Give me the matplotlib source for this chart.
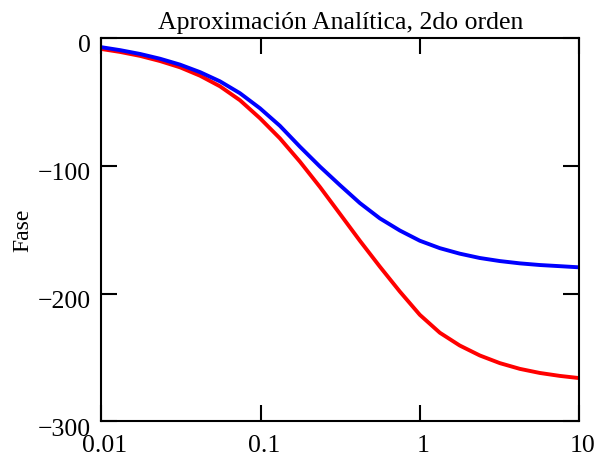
import matplotlib
matplotlib.use("Agg")
import matplotlib.pyplot as plt
import matplotlib.transforms as mtransforms

plt.rcParams['font.family'] = ['Liberation Serif', 'DejaVu Serif']
plt.rcParams['axes.unicode_minus'] = True

# Frequency points (log axis)
freq = [0.01, 0.0131, 0.0175, 0.0233, 0.0311, 0.0416, 0.0555, 0.0741,
        0.099, 0.132, 0.1765, 0.236, 0.315, 0.42, 0.561, 0.749, 1.0,
        1.335, 1.78, 2.38, 3.18, 4.25, 5.67, 7.57, 10.0]
# Phase (degrees) of the two approximations
phase_blue = [-7.0, -9.3, -12.3, -16.0, -20.6, -26.5, -33.7, -43.0,
              -54.8, -68.5, -84.9, -100.5, -115.0, -129.0, -141.0, -150.5,
              -158.5, -164.3, -168.6, -172.0, -174.4, -176.2, -177.5,
              -178.4, -179.3]
phase_red = [-8.4, -10.7, -13.8, -17.8, -22.7, -29.3, -37.6, -48.5,
             -62.6, -78.3, -96.6, -116.5, -137.5, -158.5, -178.8, -198.3,
             -216.5, -230.5, -240.5, -248.3, -254.3, -258.8, -262.0,
             -264.3, -266.0]

xticks = [0.01, 0.1, 1, 10]
xticklabels = ['0.01', '0.1', '1', '10']
yticks = [0, -100, -200, -300]

title = 'Aproximación Analítica, 2do orden'
ylabel = 'Fase'

fig = plt.figure(figsize=(5.96, 4.59), dpi=100)
ax = fig.add_axes([0.1703, 0.0817, 0.9715 - 0.1703, 0.9166 - 0.0817])

ax.plot(freq, phase_red, color='#ff0000', lw=2.8, solid_joinstyle='round')
ax.plot(freq, phase_blue, color='#0000ff', lw=2.8, solid_joinstyle='round')

ax.set_xscale('log')
ax.set_xlim(0.01, 10)
ax.set_ylim(-300, 0)
ax.set_xticks(xticks)
ax.set_xticklabels(xticklabels)
ax.minorticks_off()
ax.set_yticks(yticks)

for s in ax.spines.values():
    s.set_linewidth(1.5)

ax.tick_params(axis='both', which='major', direction='in', length=11.5,
               width=1.5, labelsize=18.5, top=True, right=True)
ax.tick_params(axis='x', pad=10)
ax.tick_params(axis='y', pad=8)

# shift tick labels slightly as in the reference
offset = mtransforms.ScaledTranslation(0, -4 / 72, fig.dpi_scale_trans)
for lab in ax.get_yticklabels():
    lab.set_transform(lab.get_transform() + offset)
offx = mtransforms.ScaledTranslation(2.5 / 72, 0, fig.dpi_scale_trans)
for lab in ax.get_xticklabels():
    lab.set_transform(lab.get_transform() + offx)

ax.set_title(title, fontsize=18.5, pad=7)
ax.set_ylabel(ylabel, fontsize=17)
ax.yaxis.set_label_coords(-0.142, 0.5)

fig.savefig('out.png', dpi=100)
